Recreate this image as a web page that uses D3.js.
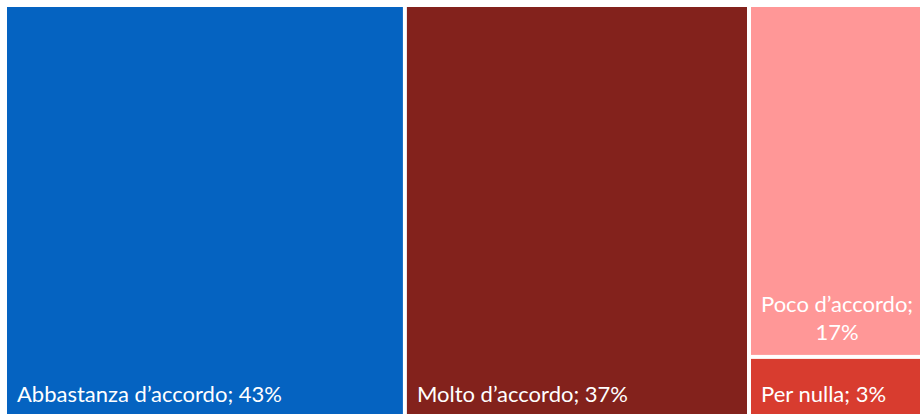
<!DOCTYPE html>
<html>
<head>
<meta charset="utf-8">
<script src="https://cdn.jsdelivr.net/npm/d3@7"></script>
<style>
  html, body { margin: 0; padding: 0; background: #ffffff; overflow: hidden; }
  svg { display: block; }
</style>
</head>
<body>
<svg id="chart" width="920" height="414"></svg>
<script>
// Survey answers and their shares (percent)
const categories = ["Abbastanza d\u2019accordo", "Molto d\u2019accordo", "Poco d\u2019accordo", "Per nulla"];
const values = [43, 37, 17, 3];
const colors = ["#0563C1", "#83221C", "#FF9797", "#D83C2F"];

const width = 920, height = 414;
const svg = d3.select("#chart");

// The tiled area runs a little past the window on the right and bottom
const areaW = 926, areaH = 410;
const gap = 4;
const fontSize = 22;
const fontFamily = "Lato, 'Open Sans', sans-serif";

const root = d3.hierarchy({
    children: categories.map((c, i) => ({ name: c, value: values[i], color: colors[i] }))
  })
  .sum(d => d.value || 0)
  .sort((a, b) => b.value - a.value);

d3.treemap()
  .tile(d3.treemapSquarify)
  .size([areaW, areaH])
  .paddingInner(gap)
  .round(false)(root);

const g = svg.append("g").attr("transform", "translate(7,7)");

const cell = g.selectAll("g.cell")
  .data(root.leaves())
  .join("g")
  .attr("class", "cell");

cell.append("rect")
  .attr("x", d => d.x0)
  .attr("y", d => d.y0)
  .attr("width", d => d.x1 - d.x0)
  .attr("height", d => d.y1 - d.y0)
  .attr("fill", d => d.data.color);

// Measure text to decide whether a label must wrap onto two lines
const measure = svg.append("text")
  .attr("font-family", fontFamily)
  .attr("font-size", fontSize)
  .attr("visibility", "hidden");
function textWidth(s) {
  measure.text(s);
  return measure.node().getComputedTextLength();
}

const padX = 10, padBottom = 15, lineH = 28;

cell.each(function(d) {
  const full = d.data.name + "; " + d.value + "%";
  const avail = (d.x1 - d.x0) - 2 * padX;
  let lines = [full];
  if (textWidth(full) > avail) lines = [d.data.name + ";", d.value + "%"];
  const widths = lines.map(textWidth);
  const boxW = d3.max(widths);
  const text = d3.select(this).append("text")
    .attr("font-family", fontFamily)
    .attr("font-size", fontSize)
    .attr("fill", "#ffffff")
    .attr("text-anchor", lines.length > 1 ? "middle" : "start");
  const xPos = lines.length > 1 ? d.x0 + padX + boxW / 2 : d.x0 + padX;
  lines.forEach((ln, i) => {
    text.append("tspan")
      .attr("x", xPos)
      .attr("y", d.y1 - padBottom - (lines.length - 1 - i) * lineH)
      .text(ln);
  });
});

measure.remove();
</script>
</body>
</html>
